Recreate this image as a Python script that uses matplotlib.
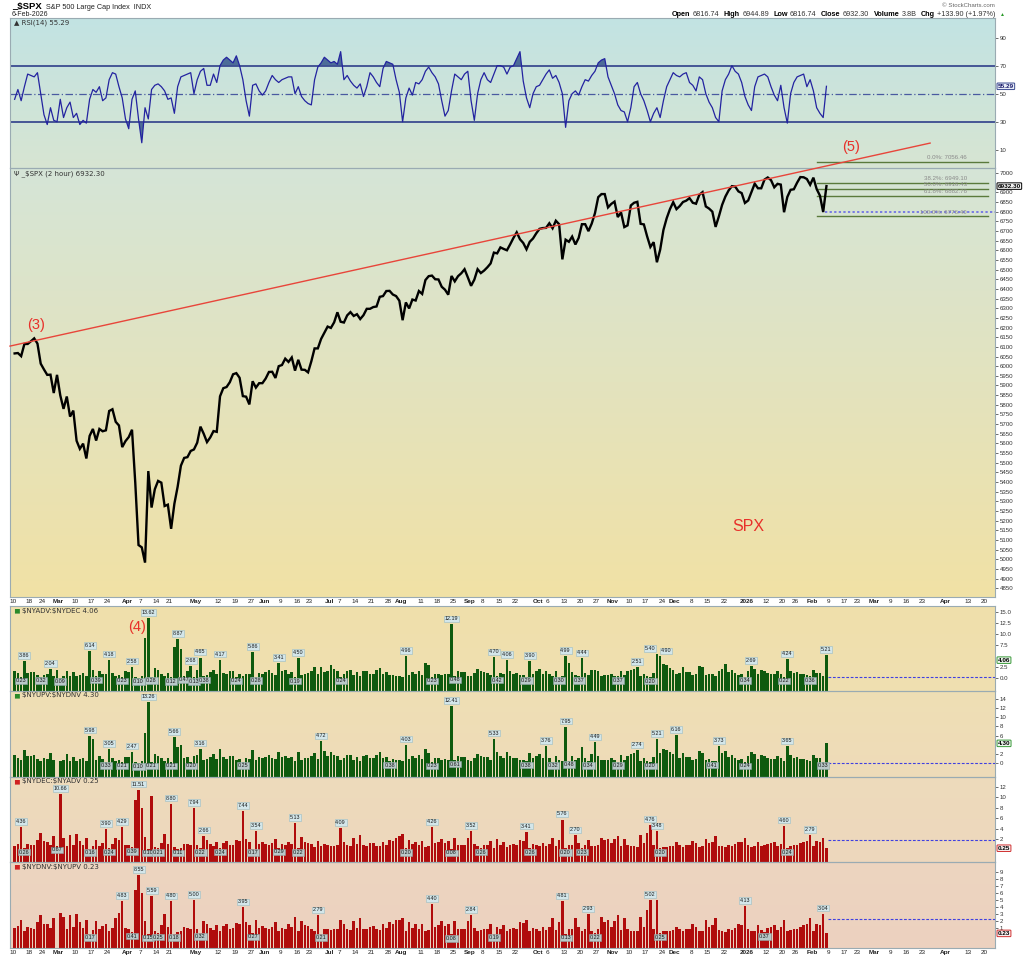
import numpy as np
import pandas as pd
import matplotlib
matplotlib.use('Agg')
import matplotlib.pyplot as plt
from matplotlib.colors import LinearSegmentedColormap
from matplotlib.text import Annotation

plt.rcParams['font.family'] = ['Liberation Sans', 'DejaVu Sans']

W, H = 1024, 958

# ---------------- data ----------------
holidays = ['2025-02-17', '2025-04-18', '2025-05-26', '2025-06-19', '2025-07-04',
            '2025-09-01', '2025-11-27', '2025-12-25', '2026-01-01', '2026-01-19',
            '2026-02-16', '2026-04-03']

close = [6066, 6068, 6052, 6115, 6115, 6129, 6144, 6117, 6013, 5983,
         5955, 5956, 5861, 5955, 5849, 5779, 5843, 5739, 5770, 5614,
         5572, 5599, 5522, 5639, 5675, 5615, 5675, 5663, 5668, 5768,
         5777, 5712, 5693, 5581, 5612, 5633, 5671, 5397, 5074, 5062,
         4983, 5457, 5268, 5363, 5406, 5397, 5276, 5283, 5158, 5288,
         5376, 5485, 5525, 5529, 5561, 5569, 5604, 5687, 5650, 5607,
         5631, 5664, 5660, 5844, 5886, 5892, 5917, 5958, 5964, 5940,
         5845, 5842, 5802, 5922, 5889, 5912, 5912, 5936, 5970, 5971,
         5939, 6000, 6006, 6039, 6022, 6045, 5977, 6033, 5982, 5981,
         5968, 6025, 6092, 6092, 6141, 6173, 6205, 6198, 6227, 6279,
         6230, 6226, 6263, 6280, 6260, 6269, 6244, 6264, 6297, 6297,
         6306, 6309, 6359, 6363, 6389, 6390, 6371, 6363, 6339, 6238,
         6330, 6299, 6345, 6340, 6389, 6374, 6446, 6466, 6469, 6450,
         6449, 6411, 6396, 6370, 6467, 6439, 6466, 6481, 6502, 6460,
         6416, 6448, 6502, 6482, 6495, 6512, 6532, 6588, 6584, 6615,
         6607, 6600, 6631, 6664, 6693, 6657, 6638, 6605, 6644, 6661,
         6688, 6711, 6715, 6716, 6740, 6714, 6753, 6735, 6553, 6655,
         6644, 6671, 6630, 6664, 6735, 6735, 6699, 6738, 6792, 6875,
         6891, 6891, 6822, 6840, 6852, 6772, 6796, 6720, 6729, 6832,
         6846, 6851, 6737, 6734, 6672, 6617, 6642, 6538, 6603, 6705,
         6766, 6813, 6849, 6813, 6829, 6850, 6857, 6870, 6846, 6841,
         6887, 6901, 6827, 6816, 6800, 6721, 6775, 6835, 6878, 6910,
         6932, 6930, 6905, 6896, 6845, 6858, 6902, 6945, 6921, 6921,
         6966, 6977, 6963, 6926, 6944, 6940, 6797, 6876, 6913, 6916,
         6950, 6979, 6978, 6969, 6939, 6976, 6917, 6883, 6798, 6932.30]

rsi = [46, 53, 45, 55, 64, 63, 62, 65, 50, 35,
       28, 40, 31, 30, 46, 33, 40, 44, 33, 36,
       28, 31, 29, 46, 53, 51, 55, 45, 47, 60,
       65, 64, 55, 47, 32, 25, 46, 52, 32, 15,
       40, 32, 53, 56, 57, 55, 52, 46, 47, 36,
       55, 62, 63, 64, 65, 50, 60, 66, 68, 56,
       56, 64, 58, 70, 74, 76, 74, 72, 77, 70,
       60, 45, 34, 56, 57, 52, 49, 52, 58, 63,
       60, 58, 60, 61, 62, 62, 50, 55, 48, 45,
       43, 42, 60, 69, 72, 76, 74, 72, 73, 71,
       80, 60, 63, 59, 56, 54, 57, 48, 55, 65,
       62, 58, 55, 68, 73, 72, 71, 60, 51, 30,
       47, 54, 49, 58, 57, 60, 66, 69, 65, 62,
       57, 45, 34, 38, 52, 64, 62, 60, 64, 66,
       45, 31, 50, 60, 65, 60, 58, 64, 70, 70,
       69, 64, 69, 70, 75, 80, 59, 47, 40, 50,
       55, 56, 60, 64, 67, 61, 63, 58, 50, 26,
       45, 50, 52, 49, 55, 60, 59, 63, 66, 72,
       74, 75, 62, 56, 50, 42, 38, 37, 30, 40,
       55, 58, 50, 45, 38, 30, 36, 40, 33, 45,
       55, 60, 65, 63, 62, 64, 65, 58, 56, 52,
       62, 60, 50, 44, 40, 33, 30, 52, 60, 64,
       70, 66, 64, 58, 48, 42, 38, 55, 62, 63,
       64, 62, 55, 49, 45, 56, 40, 29, 50, 58,
       62, 63, 64, 55, 60, 52, 40, 36, 33, 55.29]

nan = float('nan')
adv_dec = [1.6, 1.1, 0.23, 3.86, 1.2, 1.3, 1.4, 0.6, 0.32, 0.7,
           0.8, 2.04, 0.5, 1.8, 0.09, 0.5, 1.7, 0.4, 1.3, 0.35,
           0.7, 1.2, 0.5, 6.14, 1.9, 0.39, 1.5, 0.9, 1.0, 4.18,
           1.1, 0.5, 0.6, 0.23, 1.5, 1.4, 2.58, 0.2, 0.10, 0.5,
           9.2, 13.62, 0.28, 2.2, 1.8, 1.0, 0.5, 1.2, 0.12, 7.0,
           8.87, 6.5, 0.47, 1.6, 2.68, 0.13, 1.9, 4.65, 0.38, 0.6,
           1.3, 1.8, 0.9, 4.17, 1.2, 0.8, 1.5, 1.6, 0.24, 0.9,
           0.4, 1.0, 0.9, 5.86, 0.28, 1.2, 1.0, 1.3, 1.8, 1.2,
           0.7, 3.41, 1.5, 1.8, 1.0, 1.3, 0.19, 4.50, 0.6, 1.0,
           1.2, 1.6, 2.5, 0.8, 2.6, 1.3, 1.5, 3.0, 2.0, 1.6,
           0.24, 0.9, 1.6, 1.8, 0.6, 1.3, 0.4, 1.5, 1.7, 1.0,
           1.0, 1.9, 2.2, 0.8, 1.3, 0.6, 0.7, 0.5, 0.5, 0.3,
           4.96, 0.7, 1.4, 0.8, 1.5, 0.7, 3.5, 3.0, 0.23, 1.0,
           0.9, 0.6, 0.9, 1.0, 12.19, 0.48, 1.5, 1.4, 1.3, 0.5,
           0.4, 1.2, 2.0, 1.6, 1.4, 1.2, 0.7, 4.70, 0.42, 1.2,
           0.8, 4.06, 1.5, 1.0, 1.1, 0.6, 0.6, 0.29, 3.90, 1.0,
           1.5, 2.0, 0.9, 1.6, 1.0, 0.5, 1.5, 0.30, 0.45, 4.99,
           3.5, 1.4, 0.6, 0.37, 4.44, 1.2, 0.6, 1.8, 1.9, 1.5,
           0.5, 0.6, 0.6, 0.9, 0.5, 0.37, 1.6, 0.6, 1.5, 1.8,
           2.0, 2.51, 0.4, 1.0, 0.5, 0.20, 1.2, 5.40, 4.90, 3.2,
           3.0, 2.2, 1.8, 0.8, 1.2, 2.5, 1.3, 1.4, 0.6, 0.9,
           2.8, 2.4, 0.6, 0.9, 0.8, 0.4, 1.6, 2.0, 3.2, 1.3,
           1.8, 1.1, 0.7, 0.8, 0.34, 1.5, 2.69, 2.0, 0.8, 1.8,
           1.5, 1.2, 0.9, 0.8, 1.6, 1.0, 0.22, 4.24, 1.6, 1.2,
           1.3, 0.9, 0.8, 0.7, 0.36, 1.8, 1.1, 1.2, 0.5, 5.21]

upv_dnv = [1.8, 1.2, 0.6, 2.8, 1.5, 1.6, 1.7, 0.9, 0.5, 1.0,
           0.9, 2.2, 0.6, nan, 0.35, 0.7, 1.9, 0.5, 1.3, 0.4,
           0.8, 1.2, 0.5, 5.98, 5.2, 0.6, 1.6, 0.9, 0.33, 3.05,
           1.1, 0.5, 0.6, 0.21, 1.4, 1.3, 2.47, 0.3, 0.10, 0.4,
           6.5, 13.26, 0.21, 2.0, 1.6, 1.0, 0.5, 1.2, 0.21, 5.66,
           3.5, 4.0, 1.2, 1.4, 0.20, 1.6, 1.8, 3.16, 0.6, 0.8,
           1.3, 1.9, 0.9, 3.0, 1.4, 0.9, 1.5, 1.6, 0.7, 0.9,
           0.25, 1.0, 0.9, 2.8, 0.7, 1.3, 1.0, 1.3, 1.7, 1.2,
           0.8, 2.4, 1.4, 1.6, 1.0, 1.3, 0.5, 2.5, 0.7, 1.0,
           1.2, 1.6, 2.2, 0.9, 4.72, 2.6, 1.5, 2.4, 1.8, 1.6,
           0.6, 1.0, 1.8, 1.7, 0.7, 1.3, 0.5, 1.5, 1.7, 1.0,
           1.0, 1.8, 2.4, 1.0, 1.4, 0.38, 0.8, 0.6, 0.6, 0.45,
           4.03, 0.8, 1.6, 1.0, 1.8, 0.8, 3.0, 2.2, 0.23, 1.1,
           1.0, 0.6, 0.9, 0.7, 12.41, 0.61, 1.5, 1.4, 1.4, 0.7,
           0.5, 1.2, 1.9, 1.5, 1.4, 1.3, 0.7, 5.33, 2.4, 1.6,
           1.0, 2.4, 1.6, 1.1, 1.2, 0.7, 0.6, 0.38, 2.2, 1.0,
           1.5, 2.0, 1.0, 3.76, 1.2, 0.32, 1.6, 0.6, 0.5, 7.95,
           0.48, 1.5, 0.7, 1.0, 3.4, 1.2, 0.34, 2.0, 4.49, 1.6,
           0.6, 0.7, 0.6, 1.0, 0.6, 0.29, 1.7, 0.7, 1.6, 2.0,
           2.2, 2.74, 0.5, 1.0, 0.5, 0.20, 1.4, 5.21, 2.2, 3.0,
           2.8, 2.4, 2.0, 6.16, 1.2, 2.2, 1.3, 1.4, 0.7, 0.9,
           2.6, 2.2, 0.6, 0.9, 0.41, 0.5, 3.73, 2.2, 2.6, 1.3,
           1.8, 1.1, 0.7, 0.8, 0.24, 1.5, 2.4, 2.0, 0.8, 1.8,
           1.5, 1.2, 0.9, 0.8, 1.6, 1.0, 0.5, 3.65, 1.8, 1.2,
           1.3, 0.9, 0.8, 0.7, 0.5, 1.8, 1.1, 1.2, 0.33, 4.30]

dec_adv = [0.7, 1.0, 4.36, 0.26, 1.0, 0.9, 0.8, 1.8, 3.2, 1.6,
           1.4, 0.9, 2.6, 0.67, 10.66, 2.2, 0.7, 2.8, 0.9, 3.0,
           1.6, 0.9, 2.2, 0.16, 0.6, 1.8, 0.7, 1.2, 3.90, 0.24,
           1.0, 2.2, 1.8, 4.29, 0.8, 0.8, 0.39, 9.5, 11.51, 8.0,
           2.5, 0.10, 10.2, 0.5, 0.21, 1.2, 3.0, 1.0, 8.80, 0.4,
           0.11, 0.3, 1.0, 1.0, 0.8, 7.94, 0.8, 0.22, 2.66, 1.8,
           1.0, 0.7, 1.5, 0.24, 1.2, 1.6, 0.9, 0.8, 1.8, 1.6,
           7.44, 2.0, 1.4, 0.17, 3.54, 1.0, 1.4, 1.1, 0.8, 1.2,
           2.0, 0.29, 1.0, 0.9, 1.5, 1.1, 5.13, 0.22, 2.4, 1.4,
           1.3, 1.0, 0.5, 1.6, 0.7, 1.0, 0.9, 0.6, 0.7, 0.9,
           4.09, 1.5, 0.8, 0.7, 2.2, 1.0, 2.8, 0.9, 0.7, 1.2,
           1.2, 0.7, 0.6, 1.5, 0.9, 1.8, 1.6, 2.2, 2.6, 3.0,
           0.20, 1.8, 1.0, 1.5, 0.8, 1.6, 0.5, 0.6, 4.26, 1.2,
           1.4, 2.0, 1.2, 1.6, 0.08, 2.2, 0.8, 0.9, 0.9, 2.2,
           3.52, 1.0, 0.6, 0.26, 0.8, 0.9, 1.6, 0.3, 2.0, 0.9,
           1.4, 0.5, 0.8, 1.0, 0.9, 1.8, 1.7, 3.41, 0.26, 1.0,
           0.8, 0.6, 1.2, 0.7, 1.1, 2.2, 0.7, 1.8, 5.76, 0.20,
           0.9, 0.8, 2.70, 1.2, 0.23, 0.9, 1.8, 0.6, 0.6, 0.8,
           2.2, 1.8, 2.0, 1.2, 2.0, 2.6, 0.7, 2.0, 0.8, 0.6,
           0.6, 0.5, 2.8, 1.2, 3.1, 4.76, 0.9, 3.48, 0.20, 0.4,
           0.4, 0.6, 0.7, 1.4, 0.9, 0.5, 0.9, 0.8, 1.6, 1.2,
           0.5, 0.6, 2.0, 1.2, 1.4, 2.6, 0.7, 0.6, 0.4, 0.9,
           0.7, 1.0, 1.5, 1.4, 2.2, 0.8, 0.5, 0.6, 1.4, 0.7,
           0.8, 1.0, 1.2, 1.4, 0.7, 1.1, 4.60, 0.24, 0.7, 0.9,
           0.9, 1.2, 1.4, 1.6, 2.79, 0.6, 1.6, 1.4, 2.2, 0.25]

dnv_upv = [1.0, 1.3, 2.2, 0.5, 1.2, 1.0, 0.9, 1.8, 2.8, 1.6,
           1.5, 1.0, 2.4, nan, 3.1, 2.6, 0.8, 2.8, 1.2, 3.0,
           1.8, 1.0, 2.2, 0.17, 0.7, 2.0, 0.8, 1.3, 1.5, 0.6,
           1.0, 2.4, 3.2, 4.83, 1.0, 0.9, 0.41, 6.5, 8.55, 6.0,
           2.0, 0.15, 5.59, 0.6, 0.25, 1.4, 3.0, 1.2, 4.80, 0.18,
           0.4, 0.5, 1.2, 1.0, 0.9, 5.00, 0.8, 0.32, 2.0, 1.6,
           1.0, 0.7, 1.4, 0.5, 1.3, 1.6, 0.9, 1.0, 1.7, 1.5,
           3.95, 1.8, 1.4, 0.27, 2.2, 1.0, 1.3, 1.0, 0.8, 1.2,
           1.8, 0.5, 1.0, 0.9, 1.5, 1.1, 2.6, 0.6, 2.0, 1.4,
           1.3, 0.9, 0.6, 2.79, 0.21, 0.9, 0.9, 0.7, 0.8, 0.9,
           2.2, 1.5, 0.8, 0.7, 2.0, 1.0, 2.4, 0.9, 0.8, 1.2,
           1.3, 0.8, 0.7, 1.6, 1.0, 1.9, 1.6, 2.1, 2.2, 2.4,
           0.5, 1.8, 1.0, 1.5, 0.8, 1.6, 0.6, 0.7, 4.40, 1.2,
           1.4, 2.0, 1.3, 1.6, 0.08, 2.0, 0.8, 0.9, 0.9, 2.0,
           2.84, 1.0, 0.6, 0.7, 0.8, 0.9, 1.6, 0.19, 1.2, 0.9,
           1.4, 0.6, 0.8, 1.0, 0.9, 1.8, 1.7, 2.2, 0.5, 1.0,
           0.8, 0.6, 1.2, 0.7, 1.1, 2.4, 0.7, 1.8, 4.81, 0.13,
           0.9, 0.8, 2.4, 1.2, 0.5, 0.9, 2.93, 0.6, 0.22, 0.8,
           2.6, 1.8, 2.2, 1.2, 2.0, 2.8, 0.7, 2.4, 0.8, 0.6,
           0.6, 0.5, 2.6, 1.2, 3.6, 5.02, 0.9, 5.0, 0.25, 0.5,
           0.5, 0.6, 0.7, 1.2, 0.9, 0.5, 0.9, 0.8, 1.6, 1.2,
           0.5, 0.6, 2.2, 1.2, 1.4, 2.4, 0.7, 0.6, 0.4, 0.9,
           0.7, 1.0, 1.5, 1.4, 4.13, 0.8, 0.5, 0.6, 1.4, 0.7,
           0.37, 1.0, 1.2, 1.4, 0.7, 1.1, 2.1, 0.5, 0.7, 0.9,
           0.9, 1.2, 1.4, 1.6, 2.4, 0.6, 1.6, 1.4, 3.04, 0.23]

adv_dec_peaks = [3, 11, 23, 29, 36, 41, 50, 54, 57, 63, 73, 81, 87, 120, 134, 147,
                 151, 158, 169, 174, 191, 197, 198, 226, 237, 249]
adv_dec_troughs = [2, 8, 14, 25, 33, 38, 42, 48, 52, 55, 58, 68, 74, 86, 100, 128,
                   135, 148, 157, 167, 173, 185, 195, 224, 236, 244]
upv_dnv_peaks = [23, 29, 36, 41, 49, 57, 94, 120, 134, 147, 163, 169, 178, 191,
                 197, 203, 216, 237]
upv_dnv_troughs = [28, 33, 38, 42, 48, 54, 70, 115, 128, 135, 157, 165, 170, 176,
                   185, 195, 214, 224, 248]
dec_adv_peaks = [2, 14, 28, 33, 38, 48, 55, 58, 70, 74, 86, 100, 128, 140, 157,
                 168, 172, 195, 197, 236, 244]
dec_adv_troughs = [3, 13, 23, 29, 36, 41, 44, 50, 57, 63, 73, 81, 87, 120, 134,
                   143, 158, 169, 174, 198, 237]
dnv_upv_peaks = [33, 38, 42, 48, 55, 70, 93, 128, 140, 168, 176, 195, 224, 248]
dnv_upv_troughs = [23, 36, 41, 44, 49, 57, 73, 94, 134, 147, 169, 178, 198, 230]
# labels nudged sideways where two labels sit on neighbouring bars
label_nudge = {197: -5.0, 198: 4.0}

fib_levels = [7056.46, 6949.10, 6916.43, 6882.76, 6776.40]
fib_names = ['0.0%', '38.2%', '50.0%', '61.8%', '100.0%']

tick_marks = [('2025-02-10', '10'), ('2025-02-18', '18'), ('2025-02-24', '24'),
              ('2025-03-03', 'Mar'), ('2025-03-10', '10'), ('2025-03-17', '17'),
              ('2025-03-24', '24'), ('2025-04-01', 'Apr'), ('2025-04-07', '7'),
              ('2025-04-14', '14'), ('2025-04-21', '21'), ('2025-05-01', 'May'),
              ('2025-05-12', '12'), ('2025-05-19', '19'), ('2025-05-27', '27'),
              ('2025-06-02', 'Jun'), ('2025-06-09', '9'), ('2025-06-16', '16'),
              ('2025-06-23', '23'), ('2025-07-01', 'Jul'), ('2025-07-07', '7'),
              ('2025-07-14', '14'), ('2025-07-21', '21'), ('2025-07-28', '28'),
              ('2025-08-01', 'Aug'), ('2025-08-11', '11'), ('2025-08-18', '18'),
              ('2025-08-25', '25'), ('2025-09-02', 'Sep'), ('2025-09-08', '8'),
              ('2025-09-15', '15'), ('2025-09-22', '22'), ('2025-10-01', 'Oct'),
              ('2025-10-06', '6'), ('2025-10-13', '13'), ('2025-10-20', '20'),
              ('2025-10-27', '27'), ('2025-11-03', 'Nov'), ('2025-11-10', '10'),
              ('2025-11-17', '17'), ('2025-11-24', '24'), ('2025-12-01', 'Dec'),
              ('2025-12-08', '8'), ('2025-12-15', '15'), ('2025-12-22', '22'),
              ('2026-01-02', '2026'), ('2026-01-12', '12'), ('2026-01-20', '20'),
              ('2026-01-26', '26'), ('2026-02-02', 'Feb'), ('2026-02-09', '9'),
              ('2026-02-17', '17'), ('2026-02-23', '23'), ('2026-03-02', 'Mar'),
              ('2026-03-09', '9'), ('2026-03-16', '16'), ('2026-03-23', '23'),
              ('2026-04-01', 'Apr'), ('2026-04-13', '13'), ('2026-04-20', '20')]

# ---------------- calendar / x positions ----------------
cal = pd.bdate_range('2025-02-10', '2026-04-30')
cal = cal[~cal.isin(pd.to_datetime(holidays))]
pos = {d.strftime('%Y-%m-%d'): i for i, d in enumerate(cal)}
n = len(close)
x = np.arange(n)
tick_pos = [pos[d] - 0.5 for d, _ in tick_marks]
tick_lab = [l for _, l in tick_marks]
bold_set = {'Mar', 'Apr', 'May', 'Jun', 'Jul', 'Aug', 'Sep', 'Oct', 'Nov', 'Dec', 'Feb', '2026'}
XL = (-1.42, 300.7)

fig = plt.figure(figsize=(W / 100, H / 100), dpi=100)
fig.patch.set_facecolor('white')


def fr(x0, y0, x1, y1):
    return [x0 / W, 1 - y1 / H, (x1 - x0) / W, (y1 - y0) / H]


def panel(rect, ctop, cbot):
    bg = fig.add_axes(fr(*rect))
    cmap = LinearSegmentedColormap.from_list('g', [ctop, cbot])
    bg.imshow(np.linspace(0, 1, 256).reshape(-1, 1), cmap=cmap, aspect='auto',
              extent=[0, 1, 0, 1])
    bg.set_axis_off()
    bg.set_zorder(0)
    ax = fig.add_axes(fr(*rect))
    ax.set_zorder(1)
    ax.patch.set_alpha(0)
    for s in ax.spines.values():
        s.set_color('#9aabb2')
        s.set_linewidth(0.8)
    ax.set_xlim(*XL)
    ax.yaxis.tick_right()
    ax.tick_params(axis='y', labelsize=4.4, length=2, width=0.5, colors='#333333', pad=1.5)
    ax.set_xticks(tick_pos)
    ax.tick_params(axis='x', length=0, labelbottom=False)
    return ax


def show_dates(ax):
    ax.set_xticks(tick_pos)
    ax.set_xticklabels(tick_lab)
    ax.tick_params(axis='x', labelbottom=True, labelsize=4.6, pad=1.2, colors='#222222')
    for t in ax.get_xticklabels():
        if t.get_text() in bold_set:
            t.set_fontweight('bold')


def tag(ax, val, text, ec, fc='#ffffff', col='#000000'):
    ax.annotate(text, xy=(1.0, val), xycoords=ax.get_yaxis_transform(), xytext=(2, 0),
                textcoords='offset points', ha='left', va='center', fontsize=4.6,
                fontweight='bold', color=col, annotation_clip=False, zorder=10,
                bbox=dict(boxstyle='round,pad=0.12', fc=fc, ec=ec, lw=0.7))


def ftext(px, py, s, **kw):
    return fig.text(px / W, 1 - py / H, s, **kw)


# ---------------- header ----------------
ftext(12, 7, '_$SPX', fontsize=6.8, fontweight='bold', va='center', ha='left')
ftext(46, 7.5, 'S&P 500 Large Cap Index  INDX', fontsize=5.2, va='center', ha='left',
      color='#222222')
ftext(12, 15, '6-Feb-2026', fontsize=5, va='center', ha='left', color='#222222')
ftext(995, 5.5, '\u00a9 StockCharts.com', fontsize=4.4, va='center', ha='right', color='#666666')

parts = [('Open', 'bold', '#000000'), ('6816.74', 'normal', '#333333'),
         ('High', 'bold', '#000000'), ('6944.89', 'normal', '#333333'),
         ('Low', 'bold', '#000000'), ('6816.74', 'normal', '#333333'),
         ('Close', 'bold', '#000000'), ('6932.30', 'normal', '#333333'),
         ('Volume', 'bold', '#000000'), ('3.8B', 'normal', '#333333'),
         ('Chg', 'bold', '#000000'), ('+133.90 (+1.97%)', 'normal', '#333333'),
         ('\u25b2', 'normal', '#2a9a2a')]
prev = ftext(672, 15, parts[0][0], fontsize=5.2, fontweight=parts[0][1], color=parts[0][2],
             va='center', ha='left')
for k, (s, fw, col) in enumerate(parts[1:], start=1):
    gap = 1.6 if parts[k - 1][1] == 'bold' else 3.2
    fs = 3.6 if s == '\u25b2' else 5.2
    a = Annotation(s, xy=(1, 0.5), xycoords=prev, xytext=(gap, 0), textcoords='offset points',
                   fontsize=fs, fontweight=fw, color=col, va='center', ha='left')
    fig.add_artist(a)
    prev = a

# ---------------- RSI panel ----------------
ax_r = panel((10, 18, 995, 168), '#c2e3e3', '#d7e5d2')
ax_r.set_ylim(-3, 104)
r = np.array(rsi, float)
ax_r.fill_between(x, r, 70, where=r > 70, interpolate=True, color='#4d6c98', lw=0, zorder=2)
ax_r.fill_between(x, r, 30, where=r < 30, interpolate=True, color='#4d6c98', lw=0, zorder=2)
ax_r.axhline(70, color='#3b4b90', lw=1.3, zorder=2)
ax_r.axhline(30, color='#3b4b90', lw=1.3, zorder=2)
ax_r.axhline(50, color='#4a5aa0', lw=0.9, ls=(0, (6, 2, 1, 2)), zorder=2)
ax_r.plot(x, r, color='#2323a0', lw=0.9, zorder=3)
ax_r.set_yticks([10, 30, 50, 70, 90])
tag(ax_r, r[-1], '55.29', '#3b4b90', fc='#e8eef8', col='#1a1a6a')
ftext(14, 23, '\u25b2 RSI(14) 55.29', fontsize=5, va='center', ha='left', color='#333333',
      family=['DejaVu Sans'])

# ---------------- price panel ----------------
ax_p = panel((10, 168, 995, 597), '#d5e5d7', '#f1e1a5')
ax_p.set_ylim(4805, 7026)
pt = [v for v in range(4850, 7001, 50) if v != 6950]
ax_p.set_yticks(pt)
ax_p.plot(x, close, color='black', lw=1.7, zorder=3, solid_joinstyle='miter')
trend_idx = [-1.42, 280.8]
trend_val = [6104, 7155]
ax_p.plot(trend_idx, trend_val, color='#e8453a', lw=1.0, zorder=4, clip_on=False)
for lvl, nm in zip(fib_levels, fib_names):
    ax_p.plot([246.1, 298.6], [lvl, lvl], color='#5a7a3c', lw=1.0, zorder=2, clip_on=False)
    ax_p.annotate(f'{nm}: {lvl:.2f}', xy=(292.1, lvl), xytext=(0, 1.2),
                  textcoords='offset points', ha='right', va='bottom', fontsize=4.4,
                  color='#8a8a8a', annotation_clip=False, zorder=5)
ax_p.plot([248.5, 300.7], [6798, 6798], color='#6060e8', lw=1.1, ls=(0, (1.5, 1.5)), zorder=4)
tag(ax_p, close[-1], '6932.30', '#000000', fc='#f4f4f4', col='#000000')
ax_p.text(6.5, 6212, '(3)', color='#e8302a', fontsize=10.5, ha='center', va='center', zorder=6)
ax_p.text(256.6, 7134, '(5)', color='#e8302a', fontsize=10.5, ha='center', va='center',
          zorder=6)
ax_p.text(225, 5171, 'SPX', color='#e8302a', fontsize=11.5, ha='center', va='center', zorder=6)
ftext(14, 173.5, '\u03a8 _$SPX (2 hour) 6932.30', fontsize=5, va='center', ha='left',
      color='#333333', family=['DejaVu Sans'])
show_dates(ax_p)


# ---------------- breadth panels ----------------
def bar_panel(rect, ctop, cbot, vals, color, ylim, yt, fmt, peaks, troughs, legend,
              last_txt, tag_ec, dash_y, legend_col, nudge=None):
    nudge = nudge or {}
    ax = panel(rect, ctop, cbot)
    v = np.array(vals, float)
    ax.set_ylim(*ylim)
    ax.bar(x, v - ylim[0], bottom=ylim[0], width=0.78, color=color, linewidth=0, zorder=2)
    ax.set_yticks(yt)
    ax.set_yticklabels([fmt.format(t) for t in yt])
    for i in peaks:
        ax.annotate(f'{v[i]:.2f}', xy=(i, v[i]), xytext=(nudge.get(i, 0), 2.2),
                    textcoords='offset points',
                    ha='center', va='bottom', fontsize=3.9, color='#1a1a1a', zorder=6,
                    annotation_clip=False,
                    bbox=dict(boxstyle='square,pad=0.14', fc='#d3e6ea', ec='#9bbcc2', lw=0.4))
    for i in troughs:
        ax.annotate(f'{v[i]:.2f}', xy=(i, v[i]), xytext=(0, -1.0), textcoords='offset points',
                    ha='center', va='top', fontsize=3.9, color='#1a1a1a', zorder=6,
                    annotation_clip=False,
                    bbox=dict(boxstyle='square,pad=0.14', fc='#b9c9c9', ec='#8fa6a6', lw=0.4))
    ax.plot([249.5, XL[1]], [dash_y, dash_y], color='#4040e0', lw=0.8, ls=(0, (2.5, 1.5)),
            zorder=3)
    y0 = rect[1] + 4.5
    ftext(14, y0, '\u2586', fontsize=4.5, va='center', ha='left', color=legend_col,
          family=['DejaVu Sans'])
    ftext(22, y0, legend.replace('$', r'\$'), fontsize=5, va='center', ha='left',
          color='#333333', family=['DejaVu Sans'])
    tag(ax, float(last_txt), last_txt, tag_ec, fc='#eef6ee' if tag_ec != '#d03030' else '#f8eeee')
    return ax


ax1 = bar_panel((10, 606, 995, 691), '#f0e0ab', '#efdfb1', adv_dec, '#0e5a0e', (-2.95, 16.36),
                [0, 2.5, 7.5, 10, 12.5, 15], '{:.1f}', adv_dec_peaks, adv_dec_troughs,
                '$NYADV:$NYDEC 4.06', '4.06', '#3a9a3a', 0.15, '#2a8a2a', label_nudge)
ax2 = bar_panel((10, 691, 995, 777), '#efdfb4', '#eedbb9', upv_dnv, '#0e5a0e', (-3.06, 15.75),
                [0, 2, 6, 8, 10, 12, 14], '{:d}', upv_dnv_peaks, upv_dnv_troughs,
                '$NYUPV:$NYDNV 4.30', '4.30', '#3a9a3a', 0.0, '#2a8a2a')
ax3 = bar_panel((10, 777, 995, 862), '#eedbbb', '#edd7bd', dec_adv, '#b00c0c', (-2.4, 13.94),
                [2, 4, 6, 8, 10, 12], '{:d}', dec_adv_peaks, dec_adv_troughs,
                '$NYDEC:$NYADV 0.25', '0.25', '#d03030', 1.9, '#d02020')
ax4 = bar_panel((10, 862, 995, 948), '#edd5bf', '#ecd1c0', dnv_upv, '#b00c0c', (-1.86, 10.43),
                [1, 2, 3, 4, 5, 6, 7, 8, 9], '{:d}', dnv_upv_peaks, dnv_upv_troughs,
                '$NYDNV:$NYUPV 0.23', '0.23', '#d03030', 2.3, '#d02020')
ax1.text(37.5, 11.6, '(4)', color='#e8302a', fontsize=10.5, ha='center', va='center', zorder=6)
show_dates(ax4)

fig.savefig('out.png', dpi=100)
